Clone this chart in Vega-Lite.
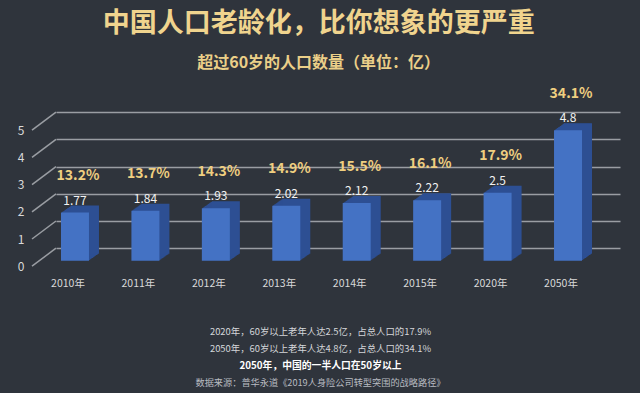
{
  "$schema": "https://vega.github.io/schema/vega-lite/v6.json",
  "background": "#2f343c",
  "padding": {"left": 17, "top": 10, "right": 24, "bottom": 8},
  "config": {"view": {"stroke": null}, "font": "Noto Sans CJK SC"},
  "title": {
    "text": "中国人口老龄化，比你想象的更严重",
    "subtitle": "超过60岁的人口数量（单位：亿）",
    "anchor": "middle",
    "font": "Noto Sans CJK SC",
    "fontSize": 27,
    "fontWeight": "bold",
    "color": "#F0D48E",
    "subtitleFont": "Noto Sans CJK SC",
    "subtitleFontSize": 16,
    "subtitleFontWeight": "bold",
    "subtitleColor": "#EBCF88",
    "subtitlePadding": 17,
    "offset": 13
  },
  "spacing": 34,
  "vconcat": [
    {
      "width": 564,
      "height": 163.2,
      "data": {
        "values": [
          {"year": "2010年", "value": 1.77, "pct": "13.2%"},
          {"year": "2011年", "value": 1.84, "pct": "13.7%"},
          {"year": "2012年", "value": 1.93, "pct": "14.3%"},
          {"year": "2013年", "value": 2.02, "pct": "14.9%"},
          {"year": "2014年", "value": 2.12, "pct": "15.5%"},
          {"year": "2015年", "value": 2.22, "pct": "16.1%"},
          {"year": "2020年", "value": 2.5, "pct": "17.9%"},
          {"year": "2050年", "value": 4.8, "pct": "34.1%"}
        ]
      },
      "encoding": {
        "x": {
          "field": "year", "type": "nominal", "sort": null,
          "scale": {"paddingInner": 0.6024, "paddingOuter": 0.305, "align": 0.116},
          "axis": {
            "title": null, "labelAngle": 0, "domain": false, "ticks": false, "grid": false,
            "labelPadding": 30, "labelOffset": -7, "labelColor": "#d9d9d9",
            "labelFontSize": 10.5, "labelFont": "Noto Sans CJK SC"
          }
        },
        "y": {
          "field": "value", "type": "quantitative", "title": null,
          "scale": {"domain": [0, 6], "nice": false, "zero": false},
          "axis": {
            "values": [0, 1, 2, 3, 4, 5], "domain": false, "ticks": false,
            "grid": true, "gridColor": "#9a9da3", "gridWidth": 1.5,
            "labelOffset": 18, "labelPadding": 32, "labelColor": "#d9d9d9",
            "labelFontSize": 12, "labelFont": "Noto Sans CJK SC"
          }
        }
      },
      "layer": [
        {
          "data": {"values": [{"g": 0}, {"g": 1}, {"g": 2}, {"g": 3}, {"g": 4}, {"g": 5}]},
          "mark": {"type": "rule", "color": "#9a9da3", "strokeWidth": 1.5, "xOffset": -24, "yOffset": 18, "x2Offset": 0, "y2Offset": 0},
          "encoding": {
            "x": {"value": 0},
            "x2": {"value": 0},
            "y": {"field": "g", "type": "quantitative", "title": null},
            "y2": {"field": "g"}
          }
        },
        {"mark": {"type": "bar", "color": "#2D4F93", "xOffset": 1, "yOffset": 11.8, "y2Offset": 11.8}},
        {"mark": {"type": "bar", "color": "#2D4F93", "xOffset": 2, "yOffset": 11.1, "y2Offset": 11.1}},
        {"mark": {"type": "bar", "color": "#2D4F93", "xOffset": 3, "yOffset": 10.4, "y2Offset": 10.4}},
        {"mark": {"type": "bar", "color": "#2D4F93", "xOffset": 4, "yOffset": 9.7, "y2Offset": 9.7}},
        {"mark": {"type": "bar", "color": "#2D4F93", "xOffset": 5, "yOffset": 9.0, "y2Offset": 9.0}},
        {"mark": {"type": "bar", "color": "#2D4F93", "xOffset": 6, "yOffset": 8.3, "y2Offset": 8.3}},
        {"mark": {"type": "bar", "color": "#2D4F93", "xOffset": 7, "yOffset": 7.6, "y2Offset": 7.6}},
        {"mark": {"type": "bar", "color": "#2D4F93", "xOffset": 8, "yOffset": 6.9, "y2Offset": 6.9}},
        {"mark": {"type": "bar", "color": "#2D4F93", "xOffset": 9, "yOffset": 6.2, "y2Offset": 6.2}},
        {"mark": {"type": "bar", "color": "#2D4F93", "xOffset": 10, "yOffset": 5.5, "y2Offset": 5.5}},
        {"mark": {"type": "bar", "color": "#4472C4", "yOffset": 12.5, "y2Offset": 12.5}},
        {
          "mark": {"type": "text", "baseline": "middle", "dy": 0.5, "fontSize": 12, "color": "#f2f2f2", "font": "Noto Sans CJK SC"},
          "encoding": {"text": {"field": "value"}}
        },
        {
          "mark": {"type": "text", "baseline": "middle", "dy": -24, "dx": 3, "fontSize": 14, "fontWeight": "bold", "color": "#EFCF80", "font": "Noto Sans CJK SC"},
          "encoding": {"text": {"field": "pct"}}
        }
      ]
    },
    {
      "width": 529,
      "height": 68,
      "data": {
        "values": [
          {"line": 1, "kind": "note", "text": "2020年，60岁以上老年人达2.5亿，占总人口的17.9%"},
          {"line": 2, "kind": "note", "text": "2050年，60岁以上老年人达4.8亿，占总人口的34.1%"},
          {"line": 3, "kind": "bold", "text": "2050年，中国的一半人口在50岁以上"},
          {"line": 4, "kind": "source", "text": "数据来源：普华永道《2019人身险公司转型突围的战略路径》"}
        ]
      },
      "encoding": {
        "y": {"field": "line", "type": "ordinal", "axis": null},
        "text": {"field": "text"}
      },
      "layer": [
        {
          "transform": [{"filter": "datum.kind == 'note'"}],
          "mark": {"type": "text", "fontSize": 9.4, "color": "#d4d6da", "font": "Noto Sans CJK SC"}
        },
        {
          "transform": [{"filter": "datum.kind == 'bold'"}],
          "mark": {"type": "text", "fontSize": 9.8, "fontWeight": "bold", "color": "#ffffff", "font": "Noto Sans CJK SC"}
        },
        {
          "transform": [{"filter": "datum.kind == 'source'"}],
          "mark": {"type": "text", "fontSize": 9.2, "color": "#b9bcc2", "font": "Noto Sans CJK SC"}
        }
      ]
    }
  ]
}
